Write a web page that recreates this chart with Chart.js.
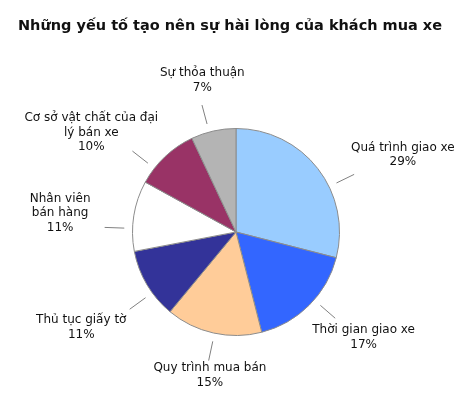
<!DOCTYPE html>
<html>
<head>
<meta charset="utf-8">
<script src="https://cdn.jsdelivr.net/npm/chart.js@4.4.1/dist/chart.umd.min.js"></script>
<style>
  html, body { margin: 0; padding: 0; background: #fff; }
  #wrap { width: 460px; height: 401px; }
</style>
</head>
<body>
<div id="wrap"><canvas id="pieChart" width="460" height="401"></canvas></div>
<script>
// Chart data
const chartTitle = "Những yếu tố tạo nên sự hài lòng của khách mua xe";
const categories = [
  "Quá trình giao xe",
  "Thời gian giao xe",
  "Quy trình mua bán",
  "Thủ tục giấy tờ",
  ["Nhân viên", "bán hàng"],
  ["Cơ sở vật chất của đại", "lý bán xe"],
  "Sự thỏa thuận"
];
const shares = [29, 17, 15, 11, 11, 10, 7]; // percent
const sliceColors = ["#99ccff", "#3366ff", "#ffcc99", "#333399", "#ffffff", "#993366", "#b4b4b4"];

// Label placement: text centre offset in pie radii, leader line angle (deg from top, clockwise)
const labelLayout = [
  [1.612, -0.743, 64],
  [1.233, 1.019, 131],
  [-0.252, 1.383, 192],
  [-1.495, 0.922, 234],
  [-1.699, -0.184, 272],
  [-1.398, -0.961, 308],
  [-0.325, -1.466, 345]
];

// Draws the title plus the outside labels with leader lines
const sliceLabels = {
  id: "sliceLabels",
  afterDatasetsDraw(chart) {
    const ctx = chart.ctx;
    const arcs = chart.getDatasetMeta(0).data;
    ctx.save();

    // title (drawn here so it can use the full width)
    ctx.fillStyle = "#111";
    ctx.font = "bold 14.5px 'DejaVu Sans'";
    ctx.textAlign = "center";
    ctx.textBaseline = "middle";
    ctx.fillText(chartTitle, chart.width / 2, 26);

    arcs.forEach((arc, i) => {
      const { x, y, outerRadius } = arc.getProps(["x", "y", "outerRadius"], true);
      const [ox, oy, lead] = labelLayout[i];
      const a = lead * Math.PI / 180;

      // leader line
      ctx.strokeStyle = "#808080";
      ctx.lineWidth = 1;
      ctx.beginPath();
      ctx.moveTo(x + Math.sin(a) * outerRadius * 1.08, y - Math.cos(a) * outerRadius * 1.08);
      ctx.lineTo(x + Math.sin(a) * outerRadius * 1.27, y - Math.cos(a) * outerRadius * 1.27);
      ctx.stroke();

      // text
      const name = Array.isArray(categories[i]) ? categories[i] : [categories[i]];
      const lines = name.concat(shares[i] + "%");
      const lineH = 14.5;
      const cx = x + ox * outerRadius;
      const cy = y + oy * outerRadius;
      ctx.fillStyle = "#111";
      ctx.font = "12px 'DejaVu Sans'";
      lines.forEach((t, k) => {
        ctx.fillText(t, cx, cy + (k - (lines.length - 1) / 2) * lineH);
      });
    });
    ctx.restore();
  }
};

const ctx = document.getElementById("pieChart").getContext("2d");
const pieChart = new Chart(ctx, {
  type: "pie",
  data: {
    labels: categories,
    datasets: [
      {
        data: shares,
        backgroundColor: sliceColors,
        borderColor: "#8c8c8c",
        borderWidth: 1,
      },
    ],
  },
  options: {
    responsive: false,
    animation: false,
    layout: {
      padding: { left: 132, right: 120, top: 128, bottom: 65 },
    },
    plugins: {
      legend: { display: false },
      tooltip: { enabled: false },
      title: { display: false },
    },
  },
  plugins: [sliceLabels],
});
</script>
</body>
</html>
